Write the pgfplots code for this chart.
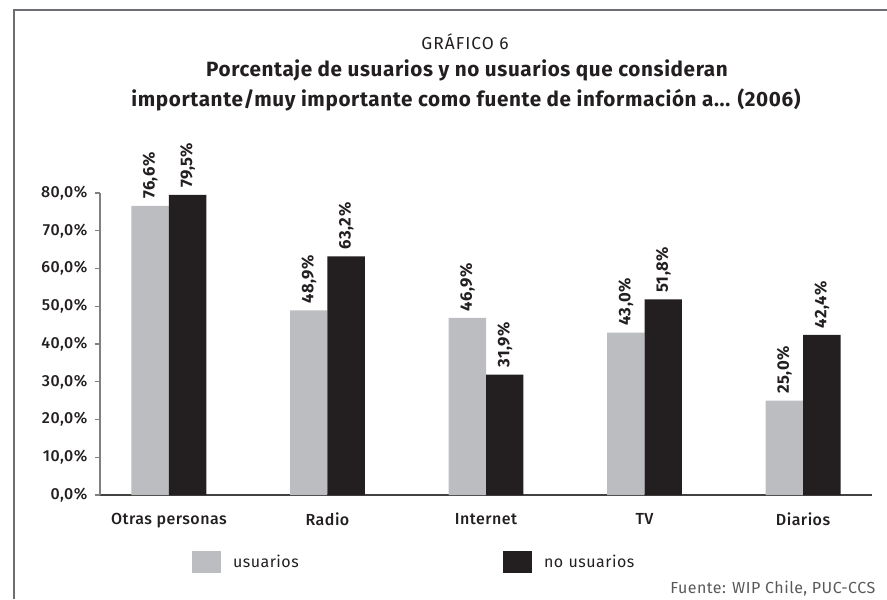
\documentclass[border=0pt]{standalone}
\usepackage{pgfplots}
\pgfplotsset{compat=1.18}
\usepackage{fontspec}
\setmainfont{Fira Sans}[LetterSpace=3]
\newfontfamily\medfont{Fira Sans Medium}[LetterSpace=3]
\definecolor{barGray}{HTML}{BCBDC0}
\definecolor{barBlack}{HTML}{231F20}
\definecolor{txt}{HTML}{231F20}
\definecolor{frameGray}{HTML}{6D6E71}
\begin{document}
\begin{tikzpicture}
\useasboundingbox (0,0) rectangle (665.25pt,449.25pt);
\draw[frameGray, line width=1.1pt] (10.5pt,0) -- (10.5pt,441.75pt) -- (665.25pt,441.75pt);
\node[txt, font=\fontsize{13pt}{15pt}\selectfont\addfontfeatures{LetterSpace=6}] at (348.75pt,417.75pt) {GRÁFICO 6};
\node[txt, font=\fontsize{15.5pt}{18pt}\selectfont\bfseries] at (350.25pt,396.75pt) {Porcentaje de usuarios y no usuarios que consideran};
\node[txt, font=\fontsize{15.5pt}{18pt}\selectfont\bfseries] at (349.5pt,374.25pt) {importante/muy importante como fuente de información a... (2006)};
\begin{axis}[
  at={(75pt,78pt)}, anchor=south west,
  scale only axis, width=579pt, height=226.5pt,
  /pgf/number format/assume math mode=true,
  ybar=0pt, bar width=28.1pt,
  xmin=-0.435, xmax=4.435, ymin=0, ymax=80,
  clip=false,
  axis x line*=bottom, axis y line*=left,
  x axis line style={color=txt!85, line width=0.9pt, -},
  y axis line style={color=black!50, line width=0.9pt, -},
  xtick=data,
  xticklabels={Otras personas,Radio,Internet,TV,Diarios},
  xtick style={draw=none},
  xticklabel style={font=\fontsize{12pt}{14pt}\medfont, text=txt, yshift=-6pt},
  ytick={0,10,...,80},
  yticklabel={\pgfmathprintnumber[fixed,fixed zerofill,precision=1,use comma]{\tick}\%},
  yticklabel style={font=\fontsize{12pt}{14pt}\medfont, text=txt, xshift=-2pt},
  tick align=outside, major tick length=4pt,
  ytick style={color=black!50, line width=0.9pt},
  nodes near coords={\pgfmathprintnumber[fixed,fixed zerofill,precision=1,use comma]{\pgfplotspointmeta}\%},
  nodes near coords style={rotate=90, anchor=west, inner xsep=5pt, font=\fontsize{12.5pt}{14pt}\selectfont\bfseries, text=txt},
  legend columns=2,
  legend style={draw=none, fill=none, at={(0.119,-0.222)}, anchor=west, inner sep=0pt,
    font=\fontsize{12pt}{14pt}\selectfont, text=txt,
    /tikz/column sep=0pt,
    /tikz/every odd column/.append style={column sep=9pt},
    nodes={inner sep=0pt, anchor=west, text width=202.5pt}},
  legend image code/.code={\fill[#1] (0pt,-8.25pt) rectangle (21.75pt,8.25pt);},
]
\addplot[fill=barGray, draw=none] coordinates {(0,76.6) (1,48.9) (2,46.9) (3,43.0) (4,25.0)};
\addplot[fill=barBlack, draw=none] coordinates {(0,79.5) (1,63.2) (2,31.9) (3,51.8) (4,42.4)};
\legend{usuarios,no usuarios}
\node[anchor=east, font=\fontsize{12pt}{14pt}\selectfont, text=black!65] at (axis description cs:1.0104,-0.311) {Fuente: WIP Chile, PUC-CCS};
\end{axis}
\end{tikzpicture}
\end{document}
